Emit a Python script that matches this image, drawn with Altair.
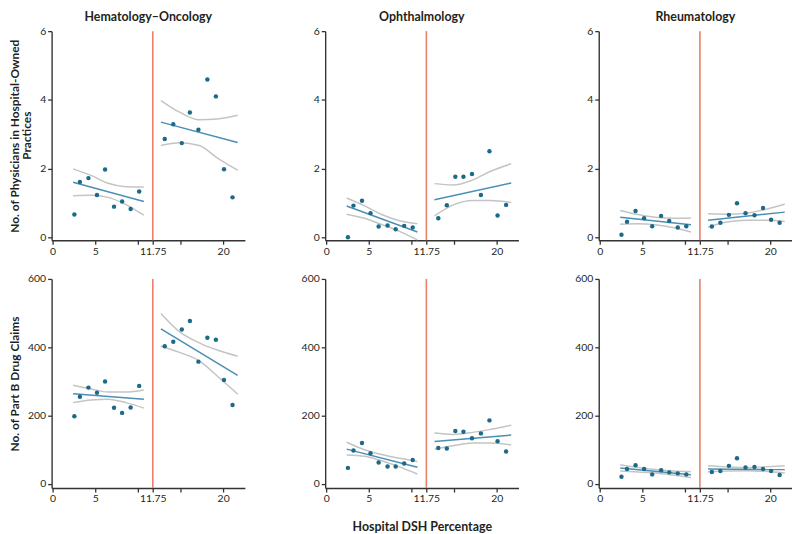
import altair as alt
import pandas as pd

# ---------------- data ----------------
SPECIALTIES = ["Hematology–Oncology", "Ophthalmology", "Rheumatology"]
CUTOFF = 11.75

# bin midpoints (hospital DSH percentage)
X_LEFT = [2.55, 3.2, 4.2, 5.2, 6.15, 7.2, 8.15, 9.15, 10.15]
X_RIGHT = [13.15, 14.15, 15.15, 16.1, 17.1, 18.15, 19.15, 20.1, 21.1]
# x positions where fitted lines / confidence bands were read
FIT_X_LEFT = [2.4, 10.7]
FIT_X_RIGHT = [12.7, 21.7]
CI_X_LEFT = [2.4, 4.5, 6.5, 8.6, 10.7]
CI_X_RIGHT = [12.7, 14.9, 17.2, 19.3, 21.7]

# --- No. of physicians in hospital-owned practices ---
HO_PHYS_LEFT = [0.66, 1.61, 1.72, 1.23, 1.97, 0.89, 1.04, 0.82, 1.33]
HO_PHYS_RIGHT = [2.86, 3.29, 2.74, 3.63, 3.13, 4.59, 4.10, 1.98, 1.16]
HO_PHYS_FIT_L = [1.60, 1.04]
HO_PHYS_FIT_R = [3.35, 2.76]
HO_PHYS_UP_L = [1.99, 1.80, 1.57, 1.47, 1.46]
HO_PHYS_LO_L = [1.21, 1.22, 1.16, 0.95, 0.64]
HO_PHYS_UP_R = [3.98, 3.64, 3.42, 3.44, 3.55]
HO_PHYS_LO_R = [2.67, 2.75, 2.67, 2.31, 1.95]

OP_PHYS_LEFT = [0.0, 0.92, 1.06, 0.70, 0.31, 0.34, 0.23, 0.33, 0.28]
OP_PHYS_RIGHT = [0.55, 0.93, 1.76, 1.76, 1.84, 1.23, 2.50, 0.63, 0.94]
OP_PHYS_FIT_L = [0.91, 0.15]
OP_PHYS_FIT_R = [1.09, 1.58]
OP_PHYS_UP_L = [1.14, 0.91, 0.66, 0.48, 0.39]
OP_PHYS_LO_L = [0.67, 0.55, 0.37, 0.17, -0.08]
OP_PHYS_UP_R = [1.56, 1.52, 1.67, 1.92, 2.14]
OP_PHYS_LO_R = [0.62, 0.94, 1.07, 1.07, 1.01]

RH_PHYS_LEFT = [0.07, 0.45, 0.76, 0.55, 0.32, 0.62, 0.47, 0.28, 0.32]
RH_PHYS_RIGHT = [0.31, 0.42, 0.65, 0.99, 0.70, 0.64, 0.85, 0.51, 0.42]
RH_PHYS_FIT_L = [0.58, 0.36]
RH_PHYS_FIT_R = [0.49, 0.73]
RH_PHYS_UP_L = [0.78, 0.66, 0.58, 0.55, 0.56]
RH_PHYS_LO_L = [0.38, 0.39, 0.36, 0.28, 0.15]
RH_PHYS_UP_R = [0.68, 0.67, 0.70, 0.80, 0.96]
RH_PHYS_LO_R = [0.29, 0.44, 0.49, 0.49, 0.46]

# --- No. of Part B drug claims ---
HO_CLM_LEFT = [198, 255, 282, 267, 300, 223, 208, 224, 287]
HO_CLM_RIGHT = [403, 416, 452, 477, 358, 428, 422, 304, 231]
HO_CLM_FIT_L = [264, 248]
HO_CLM_FIT_R = [454, 318]
HO_CLM_UP_L = [289, 278, 269, 269, 275]
HO_CLM_LO_L = [238, 246, 248, 238, 222]
HO_CLM_UP_R = [499, 445, 413, 392, 374]
HO_CLM_LO_R = [404, 385, 360, 316, 263]

OP_CLM_LEFT = [47, 98, 120, 90, 63, 51, 51, 60, 70]
OP_CLM_RIGHT = [105, 104, 155, 153, 134, 148, 186, 125, 95]
OP_CLM_FIT_L = [102, 49]
OP_CLM_FIT_R = [124, 143]
OP_CLM_UP_L = [122, 100, 86, 75, 66]
OP_CLM_LO_L = [85, 81, 68, 50, 29]
OP_CLM_UP_R = [149, 145, 151, 160, 172]
OP_CLM_LO_R = [102, 112, 120, 120, 114]

RH_CLM_LEFT = [21, 44, 55, 44, 28, 40, 34, 31, 28]
RH_CLM_RIGHT = [35, 38, 53, 75, 48, 50, 44, 38, 26]
RH_CLM_FIT_L = [47, 27]
RH_CLM_FIT_R = [44, 42]
RH_CLM_UP_L = [56, 48, 42, 38, 36]
RH_CLM_LO_L = [38, 35, 32, 26, 19]
RH_CLM_UP_R = [53, 50, 48, 50, 53]
RH_CLM_LO_R = [36, 38, 39, 37, 32]

X_TICKS = [0, 5, 10, 11.75, 15, 20]
X_HIDDEN_LABELS = [10, 15]
Y_TICKS_PHYS = [0, 2, 4, 6]
Y_TICKS_CLM = [0, 200, 400, 600]

Y_TITLE_PHYS = ["No. of Physicians in Hospital-Owned", "Practices"]
Y_TITLE_CLM = ["No. of Part B Drug Claims"]
X_TITLE = "Hospital DSH Percentage"

# ---------------- styling ----------------
W, H = 195, 211
FONT = "Lato"
TEXT = "#231f20"
RED = "#e8806b"
GRAY = "#c4c4c4"
BLUE = "#4a8fb5"
DOT = "#1c6a88"
Y_TITLE_X0 = -37      # centre of first y-title line, px left of plot
Y_TITLE_STEP = 12.5   # line spacing of the y-title

X_LABEL_EXPR = (
    "indexof([" + ",".join(str(v) for v in X_HIDDEN_LABELS) + "], datum.value) >= 0 ? '' : "
    "(datum.value == " + str(CUTOFF) + " ? '" + str(CUTOFF) + "' : format(datum.value, 'd'))"
)


def panel(pts_l, pts_r, fit_l, fit_r, up_l, lo_l, up_r, lo_r,
          y_dom, y_ticks, y_title=None, x_title=None, col_title=None):
    pts = pd.DataFrame({"x": X_LEFT + X_RIGHT, "y": pts_l + pts_r})
    fit = pd.DataFrame({
        "x": FIT_X_LEFT + FIT_X_RIGHT,
        "y": fit_l + fit_r,
        "grp": ["L"] * 2 + ["R"] * 2,
    })
    ci = pd.DataFrame({
        "x": CI_X_LEFT * 2 + CI_X_RIGHT * 2,
        "y": up_l + lo_l + up_r + lo_r,
        "grp": ["LU"] * 5 + ["LL"] * 5 + ["RU"] * 5 + ["RL"] * 5,
    })
    cut = pd.DataFrame({"x": [CUTOFF]})

    if x_title:
        x_axis = alt.Axis(values=X_TICKS, labelExpr=X_LABEL_EXPR,
                          title=x_title, titlePadding=16)
    else:
        x_axis = alt.Axis(values=X_TICKS, labelExpr=X_LABEL_EXPR, title=None)
    if y_title:
        y_axis = alt.Axis(values=y_ticks, title=y_title[0],
                          titleX=Y_TITLE_X0, titleY=H / 2,
                          titleAngle=270, titleBaseline="middle", titleAlign="center",
                          titleFontSize=12)
    else:
        y_axis = alt.Axis(values=y_ticks, title=None)

    xs = alt.Scale(domain=[-0.12, 22.55], nice=False, zero=False)
    ys = alt.Scale(domain=y_dom, nice=False, zero=False)

    xe = alt.X("x:Q", scale=xs, axis=x_axis)
    ye = alt.Y("y:Q", scale=ys, axis=y_axis)

    rule = alt.Chart(cut).mark_rule(color=RED, strokeWidth=1.6).encode(x=xe)
    band = alt.Chart(ci).mark_line(color=GRAY, strokeWidth=1.5, interpolate="monotone").encode(
        x=xe, y=ye, detail="grp:N")
    line = alt.Chart(fit).mark_line(color=BLUE, strokeWidth=1.5).encode(x=xe, y=ye, detail="grp:N")
    dots = alt.Chart(pts).mark_circle(color=DOT, size=20, opacity=1).encode(x=xe, y=ye)

    layers = [rule, band, line, dots]
    # further lines of a multi-line y title
    if y_title and len(y_title) > 1:
        extra = pd.DataFrame({"t": y_title[1:]})
        for i, txt in enumerate(y_title[1:], start=1):
            layers.append(
                alt.Chart(pd.DataFrame({"t": [txt]})).mark_text(
                    angle=270, font=FONT, fontSize=12, fontWeight="bold", color=TEXT,
                    align="center", baseline="middle",
                ).encode(
                    text="t:N",
                    x=alt.value(Y_TITLE_X0 + Y_TITLE_STEP * i),
                    y=alt.value(H / 2),
                )
            )

    ch = alt.layer(*layers).properties(width=W, height=H)
    if col_title:
        ch = ch.properties(title=alt.TitleParams(
            text=col_title, font=FONT, fontSize=12.5, fontWeight="bold",
            color=TEXT, anchor="middle", offset=3))
    return ch


PHYS_DOM = [-0.09, 6]
CLM_DOM = [-12, 600]

panels = [
    panel(HO_PHYS_LEFT, HO_PHYS_RIGHT, HO_PHYS_FIT_L, HO_PHYS_FIT_R,
          HO_PHYS_UP_L, HO_PHYS_LO_L, HO_PHYS_UP_R, HO_PHYS_LO_R,
          PHYS_DOM, Y_TICKS_PHYS, y_title=Y_TITLE_PHYS, col_title=SPECIALTIES[0]),
    panel(OP_PHYS_LEFT, OP_PHYS_RIGHT, OP_PHYS_FIT_L, OP_PHYS_FIT_R,
          OP_PHYS_UP_L, OP_PHYS_LO_L, OP_PHYS_UP_R, OP_PHYS_LO_R,
          PHYS_DOM, Y_TICKS_PHYS, col_title=SPECIALTIES[1]),
    panel(RH_PHYS_LEFT, RH_PHYS_RIGHT, RH_PHYS_FIT_L, RH_PHYS_FIT_R,
          RH_PHYS_UP_L, RH_PHYS_LO_L, RH_PHYS_UP_R, RH_PHYS_LO_R,
          PHYS_DOM, Y_TICKS_PHYS, col_title=SPECIALTIES[2]),
    panel(HO_CLM_LEFT, HO_CLM_RIGHT, HO_CLM_FIT_L, HO_CLM_FIT_R,
          HO_CLM_UP_L, HO_CLM_LO_L, HO_CLM_UP_R, HO_CLM_LO_R,
          CLM_DOM, Y_TICKS_CLM, y_title=Y_TITLE_CLM),
    panel(OP_CLM_LEFT, OP_CLM_RIGHT, OP_CLM_FIT_L, OP_CLM_FIT_R,
          OP_CLM_UP_L, OP_CLM_LO_L, OP_CLM_UP_R, OP_CLM_LO_R,
          CLM_DOM, Y_TICKS_CLM, x_title=X_TITLE),
    panel(RH_CLM_LEFT, RH_CLM_RIGHT, RH_CLM_FIT_L, RH_CLM_FIT_R,
          RH_CLM_UP_L, RH_CLM_LO_L, RH_CLM_UP_R, RH_CLM_LO_R,
          CLM_DOM, Y_TICKS_CLM),
]

chart = alt.ConcatChart(
    concat=panels, columns=3, bounds="flush",
    spacing={"row": 39, "column": 81},
).properties(
    padding=0, background="white",
).configure_view(
    stroke=None,
).configure_axis(
    grid=False,
    domainColor="#333333", domainWidth=1.4,
    tickColor="#333333", tickWidth=1.3, tickSize=4,
    labelFont=FONT, labelFontSize=10.5, labelColor=TEXT, labelPadding=2,
    titleFont=FONT, titleFontSize=12.5, titleFontWeight="bold", titleColor=TEXT,
)

chart.save("out.html", embed_options={"renderer": "svg", "actions": False})
